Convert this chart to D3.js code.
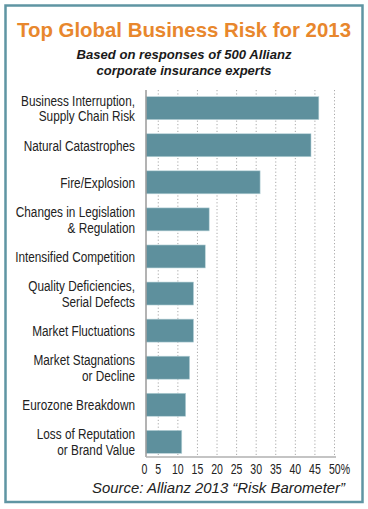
<!DOCTYPE html>
<html><head><meta charset="utf-8">
<script src="https://cdn.jsdelivr.net/npm/d3@7"></script>
<style>
html,body{margin:0;padding:0;background:#fff;}
svg{display:block;}
</style></head>
<body>
<svg id="chart" width="368" height="509"></svg>
<script>
const categories = [
  ["Business Interruption,", "Supply Chain Risk"],
  ["Natural Catastrophes"],
  ["Fire/Explosion"],
  ["Changes in Legislation", "& Regulation"],
  ["Intensified Competition"],
  ["Quality Deficiencies,", "Serial Defects"],
  ["Market Fluctuations"],
  ["Market Stagnations", "or Decline"],
  ["Eurozone Breakdown"],
  ["Loss of Reputation", "or Brand Value"]
];
const values = [46, 44, 31, 18, 17, 14, 14, 13, 12, 11];
const tickValues = [0, 5, 10, 15, 20, 25, 30, 35, 40, 45, 50];
const tickLabels = ["0", "5", "10", "15", "20", "25", "30", "35", "40", "45", "50%"];
const title = "Top Global Business Risk for 2013";
const subtitle = ["Based on responses of 500 Allianz", "corporate insurance experts"];
const source = "Source: Allianz 2013 \u201cRisk Barometer\u201d";

const svg = d3.select("#chart");
const sans = "'Liberation Sans',Arial,sans-serif";
const teal = "#5e909d";

function narrowText(sel, k) {
  sel.each(function () {
    const w = this.getComputedTextLength();
    d3.select(this).attr("textLength", w * k).attr("lengthAdjust", "spacingAndGlyphs");
  });
}

// frame
svg.append("rect").attr("x", 5.5).attr("y", 5.5).attr("width", 357).attr("height", 496.5)
  .attr("fill", "#fff").attr("stroke", "#5f95a3").attr("stroke-width", 2.5);

// title
svg.append("text").attr("x", 184).attr("y", 37).attr("text-anchor", "middle")
  .attr("font-family", sans).attr("font-weight", "bold")
  .attr("font-size", 20.5).attr("fill", "#e8872d")
  .attr("textLength", 334).attr("lengthAdjust", "spacingAndGlyphs")
  .text(title);
const subW = [215, 175];
subtitle.forEach((s, i) => {
  svg.append("text").attr("x", 184).attr("y", 59 + i * 16).attr("text-anchor", "middle")
    .attr("font-family", sans).attr("font-weight", "bold")
    .attr("font-style", "italic").attr("font-size", 13.5).attr("fill", "#1a1a1a")
    .attr("textLength", subW[i]).attr("lengthAdjust", "spacingAndGlyphs")
    .text(s);
});

// scales
const x = d3.scaleLinear().domain([0, 50]).range([138.7, 334.5]);
const axisX = 146;
const y = d3.scaleBand().domain(d3.range(categories.length)).range([90, 460])
  .paddingInner(0.38).paddingOuter(0.18);
const axisBottom = 457;

// gridlines
svg.append("g").selectAll("line").data(tickValues.slice(1)).join("line")
  .attr("x1", d => x(d)).attr("x2", d => x(d))
  .attr("y1", 90).attr("y2", axisBottom)
  .attr("stroke", "#a9a9a9").attr("stroke-width", 1).attr("stroke-dasharray", "1.2,2.2");

// bars
svg.append("g").selectAll("rect").data(values).join("rect")
  .attr("x", axisX).attr("y", (d, i) => y(i))
  .attr("width", d => x(d) - axisX).attr("height", y.bandwidth())
  .attr("fill", teal).attr("stroke", "#b9d3d9").attr("stroke-width", 0.6);

// axis lines
svg.append("line").attr("x1", axisX).attr("x2", axisX).attr("y1", 90).attr("y2", axisBottom)
  .attr("stroke", "#9a9a9a").attr("stroke-width", 1.5);
svg.append("line").attr("x1", axisX).attr("x2", 336).attr("y1", axisBottom).attr("y2", axisBottom)
  .attr("stroke", "#b0b0b0").attr("stroke-width", 1.5);

// category labels
const lab = svg.append("g").attr("font-family", sans).attr("font-size", 15.5).attr("fill", "#222");
categories.forEach((lines, i) => {
  const cy = y(i) + y.bandwidth() / 2;
  const lh = 15.8;
  lines.forEach((l, j) => {
    lab.append("text").attr("text-anchor", "end").attr("x", 135)
      .attr("y", cy + 5.4 + (j - (lines.length - 1) / 2) * lh).text(l);
  });
});
narrowText(lab.selectAll("text"), 0.76);

// tick labels
const tk = svg.append("g").attr("font-family", sans).attr("font-size", 15.5).attr("fill", "#222");
tk.selectAll("text").data(tickValues).join("text")
  .attr("x", (d, i) => i === 0 ? axisX - 1.5 : x(d) + (i === tickValues.length - 1 ? 5 : 0))
  .attr("y", 473.5).attr("text-anchor", "middle")
  .text((d, i) => tickLabels[i]);
narrowText(tk.selectAll("text"), 0.68);

// source
svg.append("text").attr("x", 345).attr("y", 493).attr("text-anchor", "end")
  .attr("font-family", sans).attr("font-style", "italic")
  .attr("font-size", 14.5).attr("fill", "#222")
  .attr("textLength", 253).attr("lengthAdjust", "spacingAndGlyphs").text(source);
</script>
</body></html>
